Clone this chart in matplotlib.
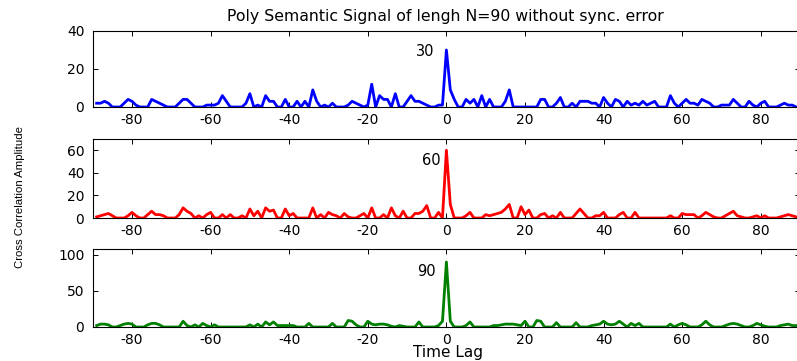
import numpy as np
import matplotlib
matplotlib.use("Agg")
import matplotlib.pyplot as plt

LAGS = np.arange(-89, 90)

BLUE_VALUES = [
    2, 2, 3, 2, 0, 0, 0, 2, 4, 3,
    1, 0, 0, 0, 4, 3, 2, 1, 0, 0,
    0, 2, 4, 4, 2, 0, 0, 0, 1, 1,
    1, 2, 6, 3, 0, 0, 0, 0, 2, 7,
    0, 1, 0, 6, 3, 3, 0, 0, 4, 0,
    0, 3, 0, 3, 0, 9, 3, 0, 1, 0,
    2, 0, 0, 0, 1, 3, 2, 1, 0, 1,
    12, 0, 6, 4, 4, 0, 7, 0, 0, 3,
    6, 3, 3, 2, 1, 0, 0, 1, 1,
    30,
    9, 4, 0, 0, 4, 2, 4, 0, 6, 0,
    4, 0, 0, 0, 3, 9, 0, 0, 0, 0,
    0, 0, 0, 4, 4, 0, 0, 2, 5, 0,
    0, 2, 0, 3, 3, 3, 2, 2, 0, 5,
    2, 0, 4, 3, 0, 3, 1, 2, 1, 3,
    1, 2, 3, 0, 0, 0, 6, 2, 0, 2,
    4, 2, 2, 1, 4, 3, 2, 0, 0, 1,
    1, 1, 4, 2, 0, 0, 3, 1, 0, 2,
    3, 0, 0, 0, 1, 2, 1, 1, 0,
]

RED_VALUES = [
    1, 2, 3, 4, 2, 0, 0, 0, 2, 5,
    2, 0, 0, 3, 6, 3, 3, 2, 0, 0,
    0, 3, 9, 6, 4, 0, 2, 0, 3, 5,
    0, 0, 3, 0, 3, 0, 0, 2, 0, 8,
    2, 6, 0, 9, 6, 7, 0, 0, 8, 2,
    4, 0, 0, 0, 0, 9, 0, 3, 0, 5,
    3, 2, 0, 4, 1, 0, 0, 2, 4, 0,
    9, 0, 0, 3, 0, 9, 2, 0, 6, 0,
    0, 4, 4, 6, 11, 0, 0, 5, 0,
    60,
    12, 0, 0, 0, 2, 5, 0, 0, 0, 3,
    2, 3, 4, 5, 8, 12, 0, 0, 10, 3,
    7, 0, 0, 3, 4, 0, 2, 0, 5, 0,
    0, 0, 4, 8, 4, 0, 0, 2, 2, 5,
    0, 0, 0, 3, 5, 0, 0, 5, 0, 0,
    0, 0, 0, 0, 0, 0, 2, 0, 0, 4,
    3, 3, 3, 0, 2, 5, 3, 1, 0, 0,
    2, 4, 6, 2, 1, 0, 0, 1, 2, 0,
    2, 0, 0, 0, 1, 2, 3, 2, 1,
]

GREEN_VALUES = [
    2, 4, 4, 3, 0, 0, 2, 4, 5, 4,
    0, 0, 0, 3, 5, 5, 3, 0, 0, 0,
    0, 0, 8, 2, 0, 3, 0, 5, 2, 0,
    3, 0, 0, 0, 0, 0, 0, 0, 0, 3,
    0, 4, 0, 7, 3, 7, 2, 2, 2, 2,
    2, 0, 0, 0, 5, 0, 0, 0, 0, 0,
    5, 0, 0, 0, 9, 8, 3, 0, 0, 8,
    4, 3, 4, 4, 3, 1, 0, 2, 1, 0,
    0, 0, 7, 0, 0, 0, 0, 2, 8,
    90,
    8, 0, 0, 0, 2, 7, 0, 0, 0, 0,
    0, 2, 2, 3, 4, 4, 4, 3, 2, 8,
    0, 0, 9, 8, 0, 0, 0, 6, 0, 0,
    0, 0, 6, 0, 0, 0, 2, 3, 4, 8,
    4, 3, 4, 8, 4, 0, 5, 2, 5, 0,
    0, 0, 0, 0, 0, 0, 4, 0, 3, 5,
    3, 0, 0, 0, 3, 8, 3, 0, 0, 0,
    2, 4, 5, 4, 2, 0, 0, 2, 5, 3,
    1, 0, 0, 0, 2, 3, 4, 2, 2,
]

PEAK_LABELS = ["30", "60", "90"]
Y_TICKS = [[0, 20, 40], [0, 20, 40, 60], [0, 50, 100]]
Y_LIMS = [(0, 40), (0, 70), (0, 108)]
X_TICKS = [-80, -60, -40, -20, 0, 20, 40, 60, 80]

plt.rcParams["font.family"] = ["DejaVu Sans"]
plt.rcParams["axes.unicode_minus"] = False

W, H = 797, 361
fig = plt.figure(figsize=(W / 100, H / 100), dpi=100)

left = 92.7 / W
width = 707.4 / W
# (top, bottom) in pixels for each panel
panel_px = [(31, 107), (139, 218), (249, 327)]
series = [BLUE_VALUES, RED_VALUES, GREEN_VALUES]
colors = ["#0000ff", "#ff0000", "#008000"]
label_pos = [(-3, 29), (-1.4, 51), (-2.6, 77)]

for i, (top, bot) in enumerate(panel_px):
    ax = fig.add_axes([left, (H - bot) / H, width, (bot - top) / H])
    ax.plot(LAGS, series[i], color=colors[i], lw=2.0)
    ax.set_xlim(-90, 90)
    ax.set_ylim(*Y_LIMS[i])
    ax.set_xticks(X_TICKS)
    ax.set_yticks(Y_TICKS[i])
    ax.tick_params(direction="in", top=True, right=True, length=3.5,
                   width=0.7, labelsize=10, pad=4)
    ax.tick_params(axis="y", pad=6)
    for sp in ax.spines.values():
        sp.set_linewidth(0.8)
    lx, ly = label_pos[i]
    ax.text(lx, ly, PEAK_LABELS[i], ha="right", va="center", fontsize=10.5)

fig.text(445 / W, 1 - 21.5 / H, "Poly Semantic Signal of lengh N=90 without sync. error",
         ha="center", va="baseline", fontsize=11.3)
fig.text(448 / W, 1 - 357.5 / H, "Time Lag", ha="center", va="baseline", fontsize=11)
fig.text(20 / W, 1 - 197 / H, "Cross Correlation Amplitude", rotation=90,
         ha="center", va="center", fontsize=8.2, family="Liberation Sans")

fig.savefig("out.png", dpi=100)
